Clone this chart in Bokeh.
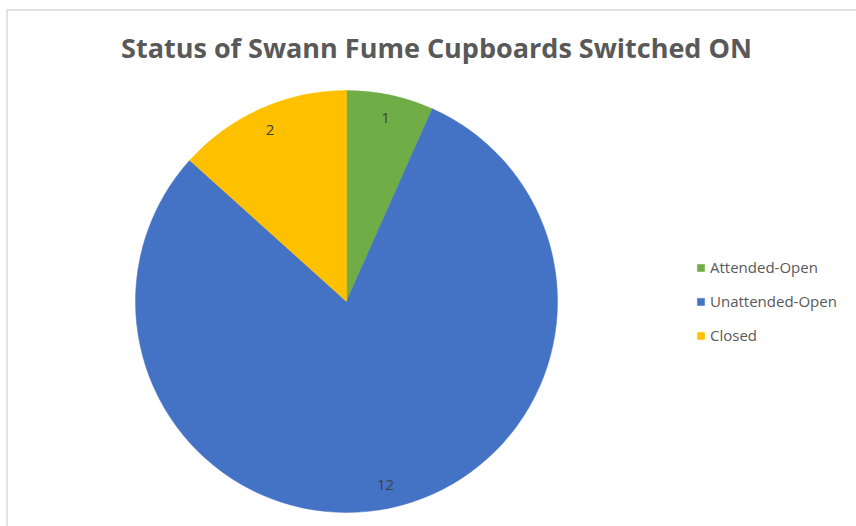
import numpy as np
from bokeh.plotting import figure
from bokeh.models import ColumnDataSource, Legend, LegendItem
from bokeh.core.properties import value
from bokeh.embed import file_html
from bokeh.resources import INLINE

categories = ["Attended-Open", "Unattended-Open", "Closed"]
counts = [1, 12, 2]
colors = ["#70AD47", "#4472C4", "#FFC000"]
title_text = "Status of Swann Fume Cupboards Switched ON"

W, H = 856, 526
cx, cy, R = 346, H - 301, 211

vals = np.array(counts, dtype=float)
frac = vals / vals.sum()
ends = np.pi / 2 - 2 * np.pi * np.cumsum(frac)
starts = np.concatenate([[np.pi / 2], ends[:-1]])
mids = (starts + ends) / 2

src = ColumnDataSource(dict(
    cat=categories, count=counts, color=colors,
    start=starts, end=ends,
    lx=cx + 0.89 * R * np.cos(mids), ly=cy + 0.89 * R * np.sin(mids),
    lab=[str(c) for c in counts],
))

p = figure(width=W, height=H, x_range=(0, W), y_range=(0, H),
           output_backend="svg", toolbar_location=None,
           min_border=0, outline_line_color=None)
p.axis.visible = False
p.grid.visible = False
p.background_fill_color = "white"
p.border_fill_color = "white"

# chart border
p.quad(left=6.5, right=W + 20, bottom=-20, top=H - 9.5,
       fill_color=None, line_color="#D9D9D9", line_width=1.5)

r = p.wedge(x=cx, y=cy, radius=R, start_angle="end", end_angle="start",
            direction="anticlock", fill_color="color", line_color="color",
            line_width=0.5, source=src)

p.text(x="lx", y="ly", text="lab", source=src, text_align="center",
       text_baseline="middle", text_font=value("Open Sans"),
       text_font_size="15px", text_color="#404040")

p.text(x=[436], y=[H - 47], text=[title_text], text_align="center",
       text_baseline="middle", text_font=value("Open Sans"),
       text_font_style="bold", text_font_size="27px", text_color="#595959")

items = [LegendItem(label=categories[i], renderers=[r], index=i) for i in range(3)]
legend = Legend(items=items, location=(696, H - 345), orientation="vertical",
                glyph_width=9, glyph_height=9, label_standoff=5, spacing=14,
                label_text_font="Open Sans", label_text_font_size="15px",
                label_text_color="#595959", background_fill_alpha=0,
                border_line_color=None, padding=0, margin=0,
                label_height=20)
p.add_layout(legend, "center")

open("out.html", "w").write(file_html(p, INLINE))
